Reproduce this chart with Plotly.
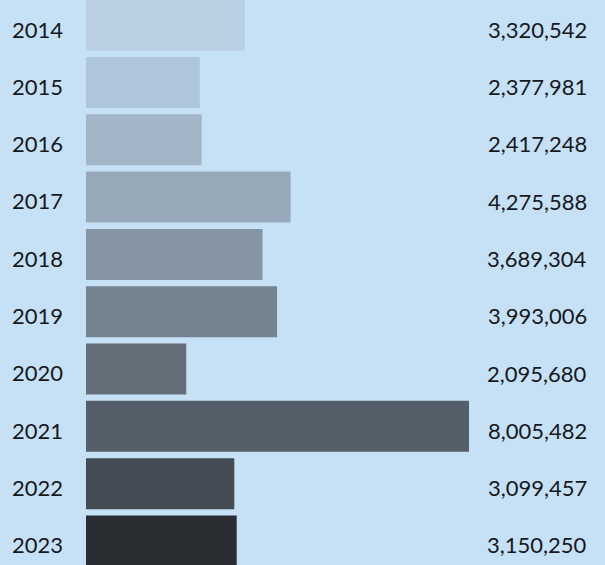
import plotly.graph_objects as go

years = ["2014", "2015", "2016", "2017", "2018", "2019", "2020", "2021", "2022", "2023"]
values = [3320542, 2377981, 2417248, 4275588, 3689304, 3993006, 2095680, 8005482, 3099457, 3150250]
bar_colors = ["#bcd0e3", "#afc5d9", "#a3b6c8", "#97a9b9", "#8595a4", "#74838f",
              "#636e78", "#555f69", "#434b54", "#2a2e33"]

bg = "#c6e1f6"
font_family = "Lato, 'Open Sans', sans-serif"
text_color = "#15181c"
idx = list(range(len(years)))

fig = go.Figure(
    go.Bar(
        x=values,
        y=idx,
        orientation="h",
        width=0.89,
        marker=dict(color=bar_colors, line=dict(width=0)),
        hoverinfo="skip",
    )
)

# value labels, right-aligned near the right edge of the plot
for i, v in zip(idx, values):
    fig.add_annotation(
        x=0.969, xref="paper", xanchor="right",
        y=i, yref="y", yshift=-4,
        text=f"{v:,}", showarrow=False,
        font=dict(family=font_family, size=22, color=text_color),
    )

fig.update_layout(
    width=605, height=565,
    margin=dict(l=86, r=0, t=0, b=0),
    paper_bgcolor=bg, plot_bgcolor=bg,
    showlegend=False,
    xaxis=dict(range=[0, 10848000], visible=False, fixedrange=True),
    yaxis=dict(
        range=[9.42, -0.44],
        # year labels sit slightly below the bar centre lines
        tickmode="array", tickvals=[i + 0.08 for i in idx], ticktext=years,
        showgrid=False, zeroline=False, showline=False, ticks="",
        ticklabelstandoff=22,
        tickfont=dict(family=font_family, size=22, color=text_color),
        fixedrange=True,
    ),
)

fig.write_html("out.html")
